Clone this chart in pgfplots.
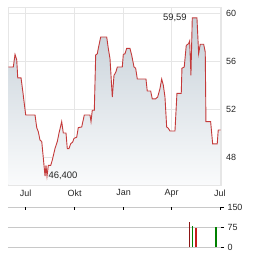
\documentclass[border=0pt]{standalone}
\usepackage{pgfplots}
\pgfplotsset{compat=1.18}
\usepackage{pgfplotstable}
\usepackage{fontspec}
\setmainfont{Liberation Sans}
\definecolor{pline}{RGB}{196,58,58}
\definecolor{gridc}{RGB}{230,230,230}
\definecolor{ftop}{RGB}{198,208,216}
\definecolor{fbot}{RGB}{250,251,252}
\definecolor{vgrid}{RGB}{200,200,200}
\definecolor{vred1}{RGB}{140,20,20}
\definecolor{vred2}{RGB}{200,30,30}
\definecolor{vgreen}{RGB}{0,128,0}

\pgfplotstableread{
x y
-32.7 55.5
-23.3 55.5
-20.1 56.55
-16.9 56.1
-15.0 54.6
-8.8 54.6
-5.6 53.5
0 51.5
17.5 51.5
20.7 50.45
23.7 50.1
26.9 49.4
30.1 49.3
33.1 47.9
36.3 46.4
38.1 47.3
40.0 46.4
42.5 47.3
47.0 47.3
50.0 47.75
55.0 48.7
59.4 49.3
62.6 50.0
67.6 50.95
70.6 50.0
75.7 50.0
78.1 48.7
81.3 48.7
84.5 49.1
88.3 49.25
90.7 49.55
95.8 49.65
98.8 50.45
105.2 50.5
110.1 51.5
120.8 51.5
122.7 50.95
125.1 51.9
128.9 51.9
131.5 56.5
134.5 56.6
136.4 57.05
140.9 58.0
152.2 58.0
155.2 57.05
158.4 56.2
162.7 53.0
165.9 54.8
169.6 55.1
172.1 55.5
181.5 55.5
183.4 56.55
186.5 56.6
189.7 57.05
195.9 57.05
199.1 56.5
203.5 55.5
206.6 55.4
209.7 54.5
226.0 54.5
228.4 53.5
234.8 53.5
237.8 52.85
244.2 52.85
248.0 53.0
252.3 53.7
255.5 54.5
258.5 54.0
261.7 53.0
264.9 50.5
267.9 50.4
271.1 50.17
280.5 50.17
284.2 53.3
292.3 53.3
293.6 55.4
297.9 55.5
301.7 57.3
306.2 57.45
308.1 57.67
310.5 54.8
313.0 59.59
321.8 59.59
325.0 56.6
328.0 57.4
334.4 57.4
337.4 56.75
338.7 50.95
347.5 50.95
351.3 49.1
359.9 49.1
361.8 50.25
366.3 50.25
}\price

\begin{document}
\begin{tikzpicture}
\begin{axis}[
  at={(0bp,0bp)}, anchor=north west,
  scale only axis, width=213bp, height=178bp,
  xmin=-33.3, xmax=367, ymin=45.667, ymax=60.5,
  axis line style={gridc},
  grid=major, grid style={gridc, line width=0.7bp},
  major tick length=0pt,
  xtick={0,92,184,274,365}, xticklabels={Jul,Okt,Jan,Apr,Jul},
  ytick={48,52,56,60}, yticklabel pos=right,
  ticklabel style={font=\fontsize{9}{10}\selectfont, text=black!85},
  yticklabel style={xshift=1.5bp},
  xticklabel style={yshift=-1bp},
  /pgf/number format/assume math mode=true,
]
\addplot[draw=none, top color=ftop, bottom color=fbot] table {\price}
  -- (axis cs:366.3,45.667) -- (axis cs:-32.7,45.667) -- cycle;
\addplot[pline, line width=0.9bp, mark=none] table {\price};
\node[anchor=east, inner sep=0pt, font=\fontsize{9.5}{10}\selectfont, text=black!85] at (axis cs:303,59.59) {59,59};
\node[anchor=west, inner sep=0pt, font=\fontsize{9.5}{10}\selectfont, text=black!85] at (axis cs:42.5,46.4) {46,400};
\end{axis}
\begin{axis}[
  at={(0bp,-200bp)}, anchor=north west,
  scale only axis, width=213bp, height=40.3bp,
  xmin=-33.3, xmax=367, ymin=0, ymax=150,
  axis line style={draw=none},
  ymajorgrids, grid style={vgrid, line width=0.8bp},
  xtick={0,92,184,274,365}, xticklabels={}, xtick pos=right,
  xtick align=inside, ytick align=outside,
  major tick length=3bp,
  tick style={black, line width=0.7bp},
  ytick={0,75,150}, yticklabel pos=right, ytick pos=right,
  ticklabel style={font=\fontsize{9}{10}\selectfont, text=black!85},
  /pgf/number format/assume math mode=true,
]
\addplot[ycomb, vred1, line width=1.3bp, mark=none] coordinates {(307.3,96)};
\addplot[ycomb, vgreen, line width=1.3bp, mark=none] coordinates {(313,80)};
\addplot[ycomb, vred2, line width=1.3bp, mark=none] coordinates {(320,70)};
\addplot[ycomb, vgreen, line width=1.3bp, mark=none] coordinates {(357.5,76)};
\end{axis}
\pgfresetboundingbox
\path[use as bounding box] (-8bp,7bp) rectangle (256bp,-248bp);
\end{tikzpicture}
\end{document}
